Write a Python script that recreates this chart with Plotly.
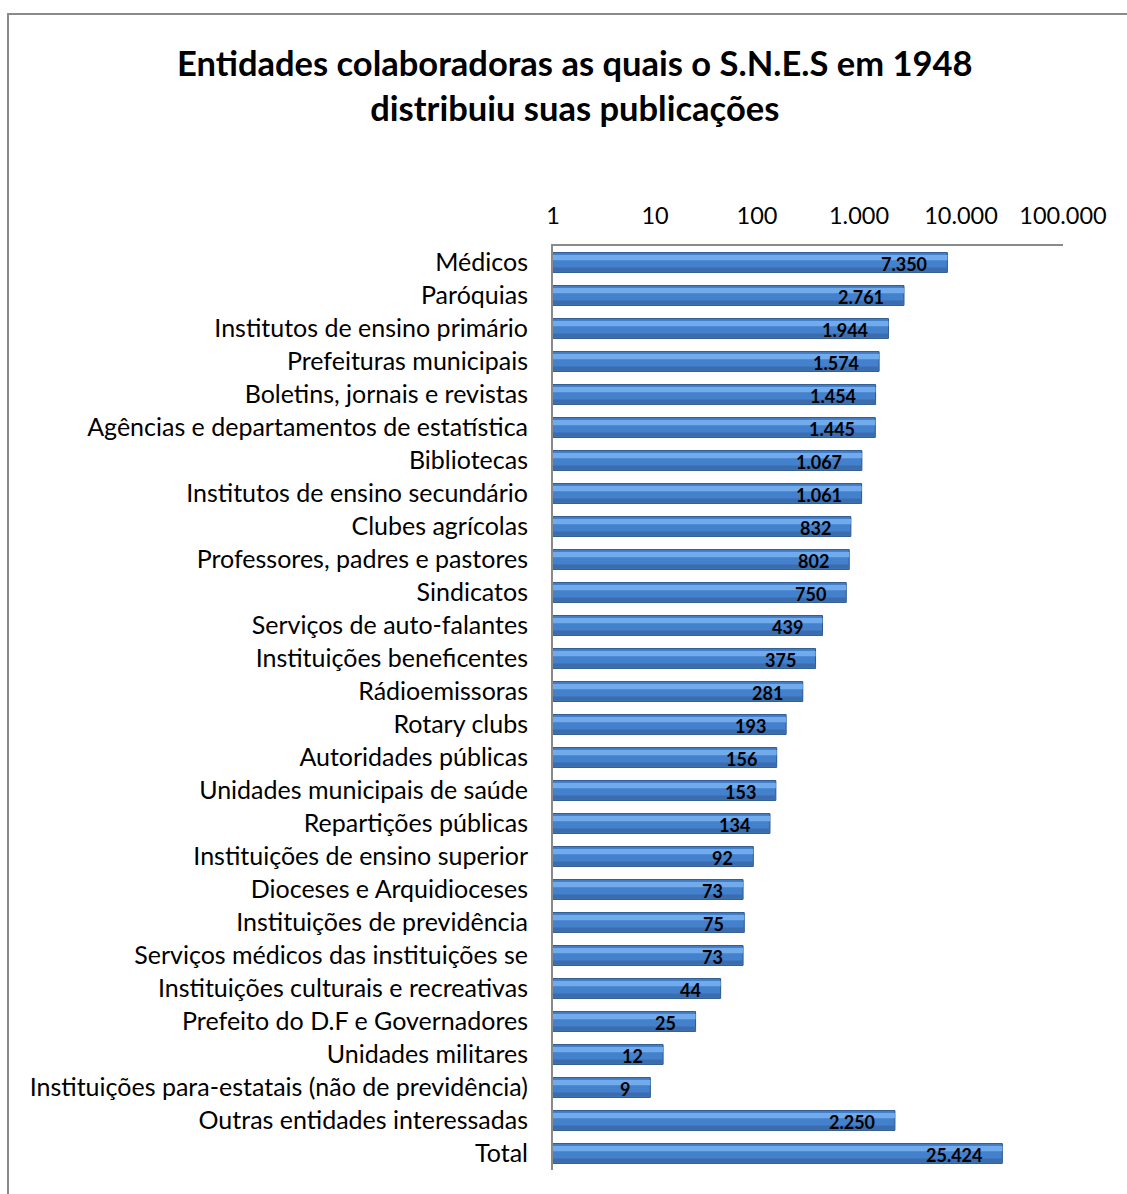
import math
import plotly.graph_objects as go

categories = [
    "Médicos", "Paróquias", "Institutos de ensino primário", "Prefeituras municipais",
    "Boletins, jornais e revistas", "Agências e departamentos de estatística", "Bibliotecas",
    "Institutos de ensino secundário", "Clubes agrícolas", "Professores, padres e pastores",
    "Sindicatos", "Serviços de auto-falantes", "Instituições beneficentes", "Rádioemissoras",
    "Rotary clubs", "Autoridades públicas", "Unidades municipais de saúde", "Repartições públicas",
    "Instituições de ensino superior", "Dioceses e Arquidioceses", "Instituições de previdência",
    "Serviços médicos das instituições se", "Instituições culturais e recreativas",
    "Prefeito do D.F e Governadores", "Unidades militares",
    "Instituições para-estatais (não de previdência)", "Outras entidades interessadas", "Total",
]
values = [7350, 2761, 1944, 1574, 1454, 1445, 1067, 1061, 832, 802, 750, 439, 375, 281,
          193, 156, 153, 134, 92, 73, 75, 73, 44, 25, 12, 9, 2250, 25424]
tick_vals = [1, 10, 100, 1000, 10000, 100000]
tick_text = ["1", "10", "100", "1.000", "10.000", "100.000"]

W, H = 1127, 1194
L, R, T, B = 553, 1063, 246, 1170

fig = go.Figure()
# main bar body
fig.add_trace(go.Bar(
    x=values, y=categories, orientation="h",
    marker=dict(color="#4481CC", line=dict(color="#2B5489", width=1)),
    width=0.6, hoverinfo="skip", showlegend=False,
))
# lighter highlight stripe (upper part)
fig.add_trace(go.Bar(
    x=values, y=categories, orientation="h",
    marker=dict(color="#72ABEC", line=dict(width=0)),
    width=0.16, offset=-0.23, hoverinfo="skip", showlegend=False,
))
# darker lower band
fig.add_trace(go.Bar(
    x=values, y=categories, orientation="h",
    marker=dict(color="#3A6CAE", line=dict(width=0)),
    width=0.13, offset=0.15, hoverinfo="skip", showlegend=False,
))

def fmt(v):
    return f"{v:,}".replace(",", ".")

annotations = [
    dict(x=math.log10(v), y=c, xref="x", yref="y", text=f"<b>{fmt(v)}</b>",
         xanchor="right", yanchor="middle", xshift=-18, yshift=-1, showarrow=False,
         font=dict(family="Lato", size=18, color="black"))
    for c, v in zip(categories, values)
]

fig.update_layout(
    width=W, height=H,
    margin=dict(l=L, r=W - R, t=T, b=H - B),
    paper_bgcolor="white", plot_bgcolor="white",
    separators=",.",
    barmode="overlay",
    annotations=annotations,
    title=dict(
        text="<b>Entidades colaboradoras as quais o S.N.E.S em 1948<br>distribuiu suas publicações</b>",
        x=0.51, xanchor="center", y=1 - 76 / H, yanchor="middle",
        font=dict(family="Lato", size=34.5, color="black"),
    ),
    xaxis=dict(
        type="log", side="top", range=[0, 5],
        tickvals=tick_vals, ticktext=tick_text,
        showgrid=False, zeroline=False,
        showline=True, linecolor="#8a8a8a", linewidth=2,
        ticks="", ticklabelstandoff=11,
        tickfont=dict(family="Lato", size=23.5, color="black"),
    ),
    yaxis=dict(
        autorange="reversed", showgrid=False, zeroline=False,
        showline=True, linecolor="#8a8a8a", linewidth=2,
        ticks="", ticklabelstandoff=18,
        tickfont=dict(family="Lato", size=25, color="black"),
    ),
    shapes=[dict(
        type="rect", xref="paper", yref="paper",
        x0=(8 - L) / (R - L), x1=(1140 - L) / (R - L),
        y0=(B - 1210) / (B - T), y1=1 + (T - 14) / (B - T),
        line=dict(color="#8a8a8a", width=2), fillcolor="rgba(0,0,0,0)", layer="below",
    )],
)

fig.write_html("out.html")
